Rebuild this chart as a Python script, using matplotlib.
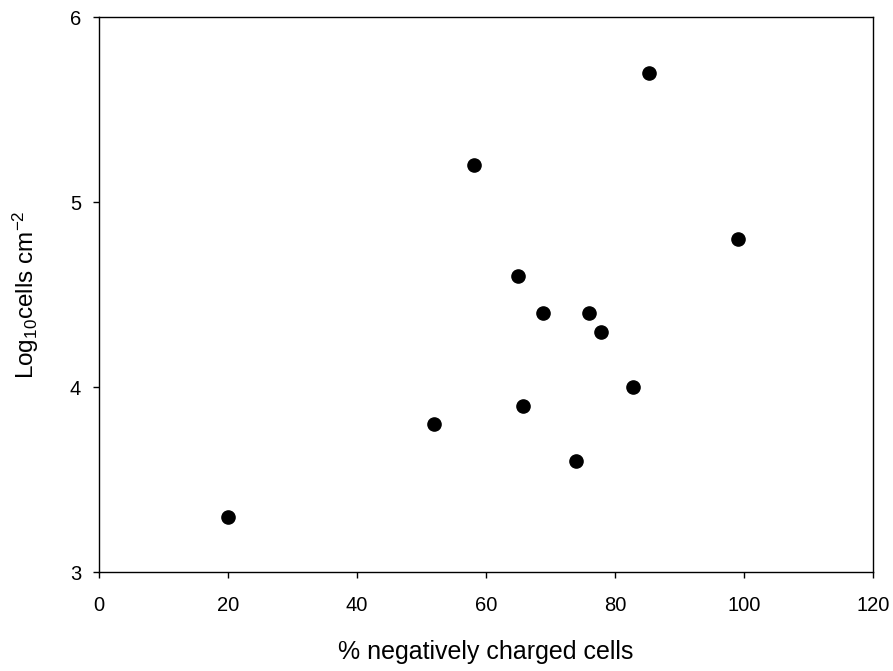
import numpy as np
import matplotlib
matplotlib.use("Agg")
import matplotlib.pyplot as plt

plt.rcParams['font.family'] = ['Liberation Sans', 'DejaVu Sans']
plt.rcParams['mathtext.default'] = 'regular'

# % negatively charged cells vs log10 cells cm-2
pct_negative = [20.0, 52.0, 58.2, 65.0, 65.8, 68.9, 73.9, 75.9, 77.9, 82.8, 85.2, 99.0]
log_cells = [3.3, 3.8, 5.2, 4.6, 3.9, 4.4, 3.6, 4.4, 4.3, 4.0, 5.7, 4.8]

xticks = [0, 20, 40, 60, 80, 100, 120]
yticks = [3, 4, 5, 6]

fig = plt.figure(figsize=(8.93, 6.71), dpi=100)
ax = fig.add_axes([0.1109, 0.1471, 0.8667, 0.8271])

ax.plot(pct_negative, log_cells, 'o', color='black', ms=9.5, ls='none')

ax.set_xlim(0, 120)
ax.set_ylim(3, 6)
ax.set_xticks(xticks)
ax.set_yticks(yticks)
ax.tick_params(direction='out', length=4, width=1, labelsize=14.5, colors='black')
ax.tick_params(axis='x', pad=13)
ax.tick_params(axis='y', pad=9)

for s in ax.spines.values():
    s.set_linewidth(1.0)
    s.set_color('black')

ax.set_xlabel("% negatively charged cells", fontsize=18, labelpad=18)
ax.set_ylabel(r"Log$_{10}$cells cm$^{-2}$", fontsize=17.5, labelpad=21)

fig.savefig("out.png", dpi=100)
